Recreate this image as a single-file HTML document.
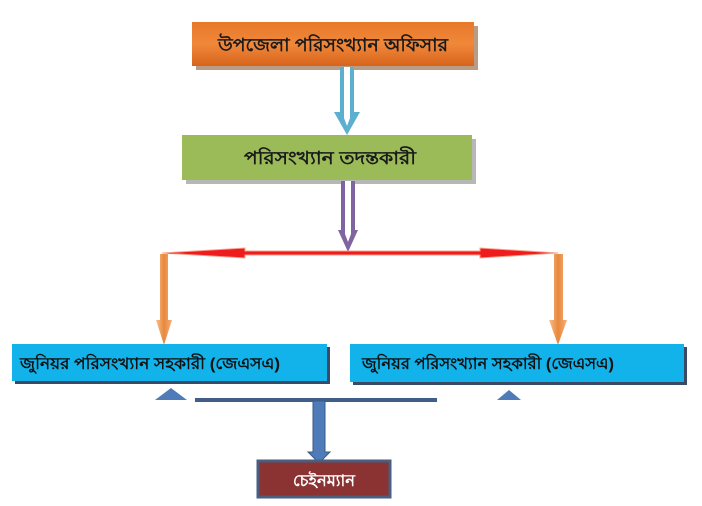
<!DOCTYPE html>
<html><head><meta charset="utf-8"><style>
html,body{margin:0;padding:0;background:#fff;width:702px;height:506px;overflow:hidden}
svg{display:block}
text{font-family:"Liberation Sans","Noto Sans CJK SC",sans-serif;font-weight:bold}
</style></head><body>
<svg width="702" height="506" viewBox="0 0 702 506">
<defs>
<linearGradient id="og" x1="0" y1="0" x2="0" y2="1"><stop offset="0" stop-color="#e8782a"/><stop offset=".5" stop-color="#f0883a"/><stop offset="1" stop-color="#d8641c"/></linearGradient>
<linearGradient id="or" x1="0" y1="0" x2="1" y2="0"><stop offset="0" stop-color="#f9c08a"/><stop offset=".5" stop-color="#e8883c"/><stop offset="1" stop-color="#f4b07a"/></linearGradient>
</defs>
<rect x="196" y="26" width="282" height="44" fill="#8a5a30" opacity=".6"/>
<rect x="192" y="22" width="282" height="44" fill="url(#og)"/>
<text x="218" y="51" font-size="18" fill="#1a1a1a" textLength="230" lengthAdjust="spacingAndGlyphs">উপজেলা পরিসংখ্যান  অফিসার</text>
<path d="M340 67 H354 V112 H360 L347 135 L334 112 H340 Z" fill="#5bb0cf"/>
<path d="M344 67 H350 V118 L347 126 L344 118 Z" fill="#fff"/>
<rect x="186" y="139" width="290" height="45" fill="#999" opacity=".7"/>
<rect x="182" y="135" width="290" height="45" fill="#9bbb59"/>
<text x="244" y="164" font-size="18" fill="#1a1a1a" textLength="172" lengthAdjust="spacingAndGlyphs">পরিসংখ্যান তদন্তকারী</text>
<path d="M341 181 H355 V230 H358 L348 252 L338 230 H341 Z" fill="#8064a2"/>
<path d="M345 181 H351 V234 L348 242 L345 234 Z" fill="#fff"/>
<path d="M162 253 L245 248 V251 H480 V248 L558 253 L480 258 V255 H245 V258 Z" fill="#ee1c1c" stroke="#f7a08a" stroke-width="1"/>
<path d="M160 254 H168 V320 H172 L164 345 L156 320 H160 Z" fill="url(#or)"/>
<path d="M554 254 H563 V320 H567 L558 345 L549 320 H554 Z" fill="url(#or)"/>
<rect x="15" y="347" width="315" height="37" fill="#3a4a66"/>
<rect x="12" y="344" width="315" height="37" fill="#12b2ea"/>
<text x="20" y="369" font-size="16" fill="#111" textLength="260" lengthAdjust="spacingAndGlyphs">জুনিয়র পরিসংখ্যান সহকারী (জেএসএ)</text>
<rect x="353" y="347" width="334" height="38" fill="#3a4a66"/>
<rect x="350" y="344" width="334" height="38" fill="#12b2ea"/>
<text x="362" y="369" font-size="16" fill="#111" textLength="252" lengthAdjust="spacingAndGlyphs">জুনিয়র পরিসংখ্যান সহকারী (জেএসএ)</text>
<path d="M155 400 L171 388 L187 400 Z" fill="#4f7cb8"/>
<path d="M497 400 L509 390 L521 400 Z" fill="#4f7cb8"/>
<rect x="195" y="398" width="242" height="4" fill="#3f5f8a"/>
<path d="M313 401 H325 V452 H330 L319 463 L308 452 H313 Z" fill="#4f7cb8" stroke="#3a5a88" stroke-width="1"/>
<rect x="258" y="461" width="132" height="36" fill="#8b3333" stroke="#4a5e80" stroke-width="3"/>
<text x="324" y="486" font-size="16" fill="#fff" text-anchor="middle" font-weight="normal" textLength="62" lengthAdjust="spacingAndGlyphs">চেইনম্যান</text>
</svg>
</body></html>
